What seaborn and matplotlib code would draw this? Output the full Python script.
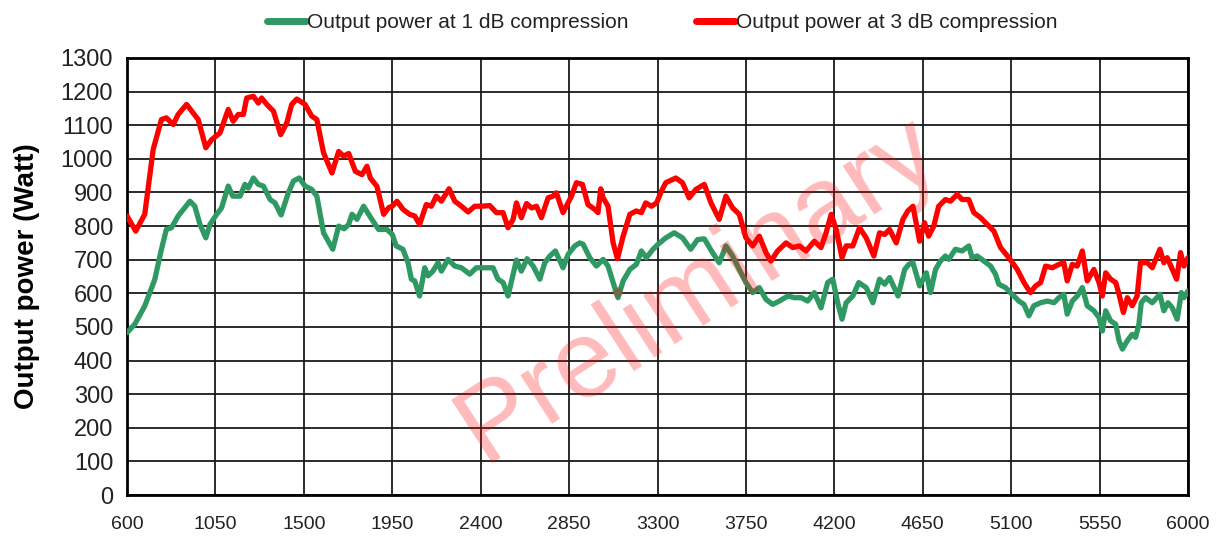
import pandas as pd
import seaborn as sns
import matplotlib.pyplot as plt

# frequency (MHz) / output power (W)
freq_3db = [600, 644, 690, 733, 775, 800, 835, 860, 903, 962, 1001, 1030, 1073, 1115, 1140,
            1166, 1192, 1209, 1243, 1268, 1285, 1311, 1345, 1382, 1413, 1438, 1464, 1506, 1540,
            1566, 1600, 1643, 1677, 1702, 1728, 1762, 1796, 1821, 1838, 1872, 1906, 1932, 1950,
            1974, 2004, 2038, 2064, 2089, 2123, 2149, 2174, 2200, 2239, 2268, 2302, 2336, 2370,
            2404, 2446, 2480, 2514, 2539, 2565, 2582, 2607, 2633, 2659, 2684, 2709, 2743, 2768,
            2785, 2819, 2862, 2887, 2918, 2946, 2980, 2997, 3011, 3023, 3048, 3074, 3096, 3125,
            3159, 3192, 3218, 3240, 3269, 3295, 3320, 3342, 3393, 3427, 3461, 3495, 3538, 3572,
            3614, 3648, 3682, 3716, 3750, 3784, 3818, 3852, 3877, 3911, 3954, 3988, 4022, 4056,
            4098, 4132, 4158, 4184, 4209, 4239, 4260, 4294, 4328, 4362, 4401, 4430, 4456, 4481,
            4515, 4549, 4574, 4600, 4634, 4659, 4680, 4706, 4731, 4765, 4791, 4825, 4850, 4884,
            4910, 4944, 4978, 5012, 5046, 5088, 5131, 5165, 5198, 5224, 5250, 5275, 5309, 5343,
            5368, 5385, 5411, 5436, 5462, 5487, 5521, 5547, 5564, 5581, 5606, 5632, 5649, 5671,
            5691, 5716, 5741, 5758, 5793, 5818, 5857, 5877, 5894, 5920, 5942, 5962, 5979, 6000]
power_3db = [830, 785, 835, 1028, 1117, 1122, 1102, 1132, 1162, 1117, 1033, 1057, 1077, 1147, 1112,
             1132, 1132, 1181, 1186, 1166, 1181, 1162, 1142, 1072, 1107, 1162, 1178, 1162, 1127,
             1117, 1018, 958, 1022, 1008, 1016, 963, 953, 978, 943, 918, 835, 855, 859,
             874, 850, 835, 830, 805, 864, 859, 889, 874, 911, 874, 859, 842, 859,
             859, 861, 840, 840, 795, 820, 869, 825, 867, 854, 859, 825, 884, 889,
             899, 840, 889, 929, 924, 864, 850, 840, 911, 884, 859, 750, 703, 770,
             835, 845, 840, 869, 859, 869, 904, 929, 943, 929, 884, 909, 924, 869,
             820, 889, 854, 835, 765, 741, 770, 721, 696, 726, 750, 736, 741, 726,
             755, 736, 780, 835, 790, 706, 741, 741, 795, 765, 711, 780, 775, 790,
             750, 820, 845, 859, 755, 810, 770, 800, 859, 879, 874, 894, 879, 879,
             840, 825, 805, 785, 736, 706, 671, 632, 602, 622, 632, 681, 676, 686,
             691, 637, 686, 681, 726, 637, 671, 632, 592, 661, 642, 632, 597, 543,
             587, 563, 592, 691, 691, 676, 731, 691, 706, 671, 642, 721, 681, 706]

freq_1db = [600, 639, 690, 741, 775, 800, 826, 860, 886, 920, 945, 971, 1001, 1022, 1056,
            1081, 1115, 1138, 1175, 1200, 1217, 1243, 1268, 1294, 1328, 1353, 1384, 1421, 1447,
            1476, 1506, 1540, 1566, 1600, 1647, 1677, 1705, 1728, 1745, 1770, 1804, 1846, 1880,
            1923, 1950, 1970, 2004, 2030, 2047, 2064, 2089, 2115, 2132, 2157, 2183, 2200, 2234,
            2268, 2302, 2344, 2378, 2420, 2463, 2488, 2514, 2539, 2565, 2582, 2607, 2636, 2667,
            2701, 2726, 2752, 2780, 2819, 2845, 2879, 2904, 2921, 2955, 2989, 3023, 3048, 3074,
            3099, 3125, 3159, 3192, 3218, 3243, 3277, 3303, 3342, 3385, 3427, 3469, 3504, 3538,
            3580, 3614, 3648, 3682, 3716, 3750, 3784, 3818, 3852, 3886, 3920, 3963, 3997, 4031,
            4064, 4098, 4132, 4166, 4192, 4217, 4239, 4260, 4294, 4324, 4362, 4396, 4430, 4456,
            4481, 4524, 4558, 4579, 4600, 4634, 4668, 4689, 4715, 4740, 4765, 4782, 4816, 4850,
            4884, 4901, 4927, 4961, 4995, 5020, 5037, 5071, 5105, 5139, 5165, 5190, 5215, 5250,
            5284, 5318, 5343, 5368, 5385, 5411, 5436, 5462, 5487, 5521, 5547, 5564, 5581, 5606,
            5632, 5649, 5666, 5691, 5716, 5733, 5750, 5762, 5784, 5818, 5857, 5877, 5898, 5920,
            5945, 5966, 5979, 6000]
power_1db = [483, 508, 562, 641, 731, 790, 795, 830, 849, 874, 859, 805, 765, 805, 835,
             854, 919, 889, 889, 924, 913, 943, 924, 919, 879, 869, 833, 899, 934,
             943, 919, 909, 889, 780, 731, 800, 792, 805, 835, 820, 859, 820, 790,
             790, 775, 741, 731, 691, 642, 637, 592, 676, 652, 666, 691, 666, 701,
             681, 676, 657, 676, 676, 676, 642, 632, 592, 657, 699, 666, 703, 681,
             642, 691, 711, 726, 676, 716, 741, 750, 746, 706, 681, 701, 681, 632,
             587, 637, 671, 686, 726, 706, 731, 746, 765, 780, 765, 731, 760, 762,
             721, 691, 741, 711, 671, 632, 602, 617, 582, 567, 577, 592, 587, 587,
             577, 602, 557, 632, 642, 572, 523, 572, 592, 632, 617, 572, 642, 627,
             647, 592, 671, 686, 691, 622, 661, 602, 671, 696, 711, 701, 731, 726,
             741, 706, 711, 696, 681, 657, 627, 617, 597, 577, 567, 533, 563, 572,
             577, 572, 587, 597, 538, 577, 592, 617, 563, 548, 528, 488, 548, 518,
             508, 459, 434, 459, 478, 469, 508, 572, 587, 572, 597, 548, 572, 557,
             523, 602, 587, 607]

x_ticks = list(range(600, 6001, 450))
y_ticks = list(range(0, 1301, 100))

label_1db = "Output power at 1 dB compression"
label_3db = "Output power at 3 dB compression"

df = pd.concat([
    pd.DataFrame({"freq": freq_1db, "power": power_1db, "series": label_1db}),
    pd.DataFrame({"freq": freq_3db, "power": power_3db, "series": label_3db}),
])

sns.set_style("white")
plt.rcParams["font.family"] = ["Liberation Sans", "DejaVu Sans"]
plt.rcParams["text.color"] = "#222222"
plt.rcParams["xtick.color"] = "#222222"
plt.rcParams["ytick.color"] = "#222222"
plt.rcParams["axes.labelcolor"] = "black"

fig = plt.figure(figsize=(12.24, 5.41), dpi=100)
ax = fig.add_axes([0.1038, 0.085, 0.8668, 0.8078])

sns.lineplot(data=df, x="freq", y="power", hue="series", sort=False,
             palette={label_1db: "#2f9963", label_3db: "#ff0000"},
             linewidth=3.8, ax=ax, legend=False, zorder=3)

ax.set_xlim(600, 6000)
ax.set_ylim(0, 1300)
ax.set_xticks(x_ticks)
ax.set_yticks(y_ticks)
ax.tick_params(axis="x", labelsize=14, direction="out", length=7, width=1.2, color="black", pad=8)
ax.tick_params(axis="y", labelsize=17, direction="out", length=6, width=1.2, color="black", pad=4)
ax.grid(True, color="#1a1a1a", linewidth=1.3)
for side in ax.spines:
    ax.spines[side].set_visible(True)
    ax.spines[side].set_color("black")
    ax.spines[side].set_linewidth(2.0)
ax.set_xlabel("")
ax.set_ylabel("Output power (Watt)", fontsize=20, fontweight="bold")
ax.yaxis.set_label_coords(-0.082, 0.5)

# watermark
ax.text(3510, 610, "Preliminary", fontsize=79, color="#ff0000", alpha=0.27,
        rotation=33, rotation_mode="anchor", ha="center", va="center", zorder=4)

handles = [plt.Line2D([], [], color="#2f9963", linewidth=5),
           plt.Line2D([], [], color="#ff0000", linewidth=5)]
fig.legend(handles, [label_1db, label_3db], loc="upper center", bbox_to_anchor=(0.541, 1.01),
           ncol=2, frameon=False, fontsize=15, handlelength=1.9, handletextpad=0.05,
           columnspacing=3.2)

fig.savefig("out.png", dpi=100)
plt.close(fig)
